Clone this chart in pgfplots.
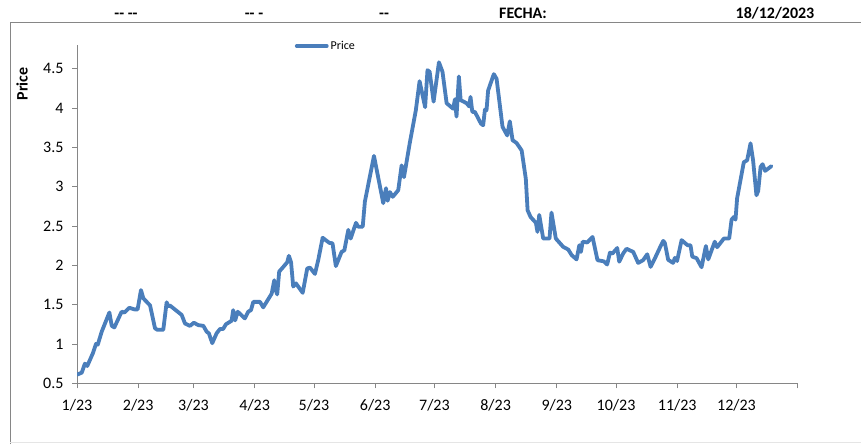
\documentclass[border=0pt]{standalone}
\usepackage{fontspec}
\setmainfont{Carlito}
\usepackage{pgfplots}
\pgfplotsset{compat=1.18}
\definecolor{series}{RGB}{74,126,187}
\definecolor{axgray}{RGB}{134,134,134}
\pgfplotstableread{
day price
0 0.61
2.4 0.635
4 0.75
5.2 0.72
8 0.88
9.6 1.0
10.5 0.99
12.5 1.155
16.4 1.40
17.6 1.23
18.9 1.21
22.6 1.41
24 1.40
26.5 1.46
29 1.44
30.7 1.44
32.4 1.685
33.6 1.58
37 1.49
39.5 1.20
40.7 1.18
43.7 1.18
45.4 1.53
46.2 1.48
47 1.49
53 1.37
54.7 1.26
57.2 1.23
59.2 1.27
61.4 1.24
64 1.23
65.7 1.155
66.8 1.135
68.5 1.01
70.7 1.135
72.4 1.19
74 1.19
75.4 1.25
78.3 1.295
79.1 1.43
80.1 1.30
81.4 1.41
85 1.325
86.7 1.41
88.1 1.43
89.3 1.535
92.7 1.535
94.3 1.465
98.6 1.64
99.9 1.81
100.6 1.685
101.4 1.63
102.4 1.92
104.5 1.98
106.5 2.04
107.3 2.12
108.4 2.04
109.5 1.73
110.9 1.77
114.3 1.65
116.6 1.96
118 1.97
120.5 1.89
122.2 2.07
124.4 2.35
127.8 2.285
129.4 2.28
131.1 1.99
134 2.17
135.4 2.19
137.4 2.45
138.6 2.34
141.3 2.54
142.4 2.49
144.7 2.49
145.8 2.81
150.4 3.39
155.1 2.79
156.5 2.98
157.3 2.82
158.5 2.93
159.9 2.87
162.7 2.955
164.4 3.27
165.6 3.12
168.5 3.55
171.6 3.97
173.5 4.34
176.3 4.01
177.5 4.48
178.6 4.46
180.6 4.08
183.3 4.58
185.1 4.46
187.2 4.06
190.5 3.99
191.4 4.11
192.2 3.89
193.4 4.40
194.3 4.10
197.3 4.06
198.6 4.02
199.3 4.14
200.2 3.95
201.5 3.95
204.6 3.80
205.7 3.78
206.6 3.98
207.4 3.97
208.2 4.22
211.1 4.43
212.5 4.37
215.5 3.76
217.9 3.65
219.2 3.83
220.6 3.59
222.6 3.555
225.2 3.46
227.3 3.10
228.2 2.70
229.7 2.615
232.4 2.54
233.2 2.425
234.1 2.64
236.1 2.34
239.3 2.34
240.3 2.67
242.5 2.34
246.2 2.235
248.8 2.20
250.5 2.13
253 2.075
254.4 2.255
255.2 2.17
256.1 2.30
258.4 2.29
261.1 2.36
263.6 2.065
266.8 2.05
268.5 2.01
269.9 2.16
271.2 2.15
273.6 2.22
274.6 2.045
276.6 2.15
278.3 2.21
281.7 2.17
284.2 2.03
286.7 2.065
288.8 2.14
290.5 1.98
292.7 2.09
295.5 2.24
296.9 2.31
297.7 2.285
299.4 2.07
301.9 2.03
302.8 2.095
303.9 2.055
306.2 2.32
309.2 2.255
310.7 2.255
311.6 2.11
313.8 2.09
316.3 1.975
318.5 2.245
319.7 2.075
323.0 2.30
324.2 2.23
327.6 2.34
330.3 2.34
331.5 2.58
332.7 2.615
333.5 2.58
334.3 2.85
337.7 3.31
339.4 3.335
341.1 3.55
342.4 3.335
344.1 2.89
345 2.945
346.2 3.25
347.2 3.285
348.5 3.20
351.7 3.26
}\pricetable
\begin{document}
\begin{tikzpicture}
\path[use as bounding box] (0,0) rectangle (861pt,-444pt);
\draw[axgray, line width=0.8pt] (10pt,-444pt) -- (10pt,-22.7pt) -- (861pt,-22.7pt);
\draw[gray!20, line width=0.8pt] (10pt,-442.5pt) -- (861pt,-442.5pt);
\begin{scope}[every node/.style={anchor=base, font=\fontsize{16}{19}\selectfont\bfseries, inner sep=0pt}]
\node at (126pt,-18.5pt) {-\kern0pt- -\kern0pt-};
\node at (254pt,-18.5pt) {-\kern0pt- -};
\node at (384pt,-18.5pt) {-\kern0pt-};
\node at (523pt,-18.5pt) {FECHA:};
\node at (775pt,-18.5pt) {18/12/2023};
\end{scope}
\begin{axis}[
  at={(77pt,-383.3pt)}, anchor=south west,
  scale only axis, width=720.7pt, height=338.3pt,
  xmin=0, xmax=365, ymin=0.5, ymax=4.8,
  axis lines*=left,
  axis line style={axgray, line width=0.8pt},
  every tick/.style={axgray, line width=0.8pt},
  tick align=outside, major tick length=5pt,
  xtick={0,31,59,90,120,151,181,212,243,273,304,334,365},
  xticklabels={1/23,2/23,3/23,4/23,5/23,6/23,7/23,8/23,9/23,10/23,11/23,12/23,{}},
  ytick={0.5,1,1.5,2,2.5,3,3.5,4,4.5},
  /pgf/number format/assume math mode=true,
  ticklabel style={font=\fontsize{16}{19}\selectfont, text=black},
  xticklabel style={yshift=-8pt},
  yticklabel style={xshift=-5pt},
  ylabel={Price},
  ylabel style={at={(axis description cs:-0.0763,0.885)}, anchor=center, font=\fontsize{16}{19}\selectfont\bfseries},
  legend style={at={(0.302,0.997)}, anchor=west, draw=none, fill=none, inner sep=0pt,
    font=\fontsize{12}{14}\selectfont, column sep=0pt},
  legend image code/.code={\draw[#1, line width=3.8pt, line cap=round] (0pt,0pt) -- (30pt,0pt);},
]
\addplot[series, line width=3.8pt, line join=round, line cap=round] table[x=day, y=price] {\pricetable};
\addlegendentry{Price}
\end{axis}
\end{tikzpicture}
\end{document}
